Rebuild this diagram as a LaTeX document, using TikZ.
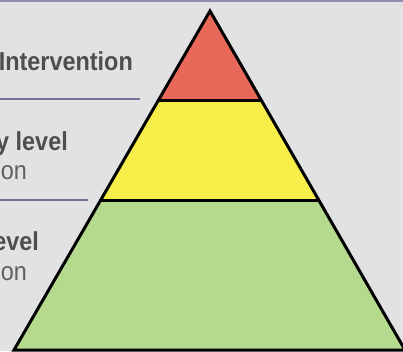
\documentclass[tikz,border=0pt]{standalone}
\usepackage{fontspec}
\newfontfamily\condfont[FakeStretch=0.9]{Liberation Sans}
\definecolor{bgGray}{HTML}{E1E2E4}
\definecolor{topRed}{HTML}{E8695A}
\definecolor{midYellow}{HTML}{F7EE4A}
\definecolor{baseGreen}{HTML}{B5D98D}
\definecolor{rulePurple}{HTML}{7A6E9A}
\definecolor{textGray}{HTML}{4D4E50}
\begin{document}
\begin{tikzpicture}[x=1pt,y=-1pt,
    tierstyle/.style={draw=black,line width=3pt,line join=miter},
    rulestyle/.style={draw=rulePurple,line width=1.3pt},
    headstyle/.style={anchor=base east,inner sep=0pt,text=textGray,font=\condfont\bfseries\fontsize{26}{28}\selectfont},
    substyle/.style={anchor=base east,inner sep=0pt,text=textGray!90!white,font=\condfont\fontsize{26}{28}\selectfont}]
\fill[bgGray] (0,0) rectangle (403,351);
\useasboundingbox (0,0) rectangle (403,351);
\draw[draw=rulePurple!80!white,line width=2pt] (0,1) -- (403,1);
% pyramid corners
\coordinate (apex) at (210,11);
\coordinate (redL) at (159,100);
\coordinate (redR) at (261,100);
\coordinate (yelL) at (101,200);
\coordinate (yelR) at (319,200);
\coordinate (baseL) at (14,350);
\coordinate (baseR) at (405,350);
\fill[baseGreen] (yelL) -- (yelR) -- (baseR) -- (baseL) -- cycle;
\fill[midYellow] (redL) -- (redR) -- (yelR) -- (yelL) -- cycle;
\fill[topRed] (apex) -- (redR) -- (redL) -- cycle;
\draw[tierstyle] (baseR) -- (apex) -- (baseL) -- cycle;
\draw[tierstyle] (redL) -- (redR);
\draw[tierstyle] (yelL) -- (yelR);
% labels on the left
\node[headstyle] (head1) at (133,70) {Intervention};
\coordinate (rule1L) at (0,99);
\coordinate (rule1R) at (140,99);
\draw[rulestyle] (rule1L) -- (rule1R);
\node[headstyle] (head2) at (68,150) {y level};
\node[substyle] (sub2) at (27,179) {on};
\coordinate (rule2L) at (0,200);
\coordinate (rule2R) at (88,200);
\draw[rulestyle] (rule2L) -- (rule2R);
\node[headstyle] (head3) at (39,250) {evel};
\node[substyle] (sub3) at (27,280) {on};
\end{tikzpicture}
\end{document}
